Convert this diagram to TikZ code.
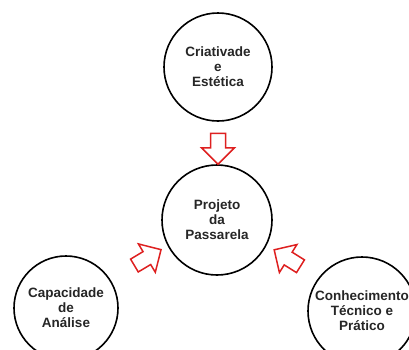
\documentclass[tikz,border=0pt]{standalone}
\usepackage{fontspec}
\setmainfont{Liberation Sans}
\usetikzlibrary{shapes.arrows}
\definecolor{arrowred}{RGB}{222,32,32}
\tikzset{
  topic/.style={circle, draw=black, line width=1.6pt, fill=white, inner sep=0pt,
    align=center, font=\bfseries\fontsize{13.5pt}{15pt}\selectfont, text=black!85},
  blockarrow/.style={single arrow, draw=arrowred, fill=white, line width=1.5pt,
    inner sep=0pt, minimum height=31pt, single arrow head extend=9pt,
    single arrow head indent=0pt, shape border uses incircle=false}
}
\begin{document}
\begin{tikzpicture}[x=1pt,y=-1pt]
\useasboundingbox (0,0) rectangle (409,349);
\node[topic, minimum size=108pt] (top) at (218,67) {Criativade\\e\\Estética};
\node[topic, minimum size=110pt] (mid) at (217,220) {Projeto\\da\\Passarela};
\node[topic, minimum size=104pt] (left) at (66,308) {Capacidade\\de\\Análise};
\node[topic, minimum size=108pt] (right) at (362,311) {Conhecimento\\Técnico e\\Prático};
\node[blockarrow, rotate=-90] (a1) at (218,145) {\rule{0pt}{13.5pt}};
\node[blockarrow, rotate=30.8] (a2) at (144.5,259.5) {\rule{0pt}{13.5pt}};
\node[blockarrow, rotate=148] (a3) at (290.5,260) {\rule{0pt}{13.5pt}};
\end{tikzpicture}
\end{document}
